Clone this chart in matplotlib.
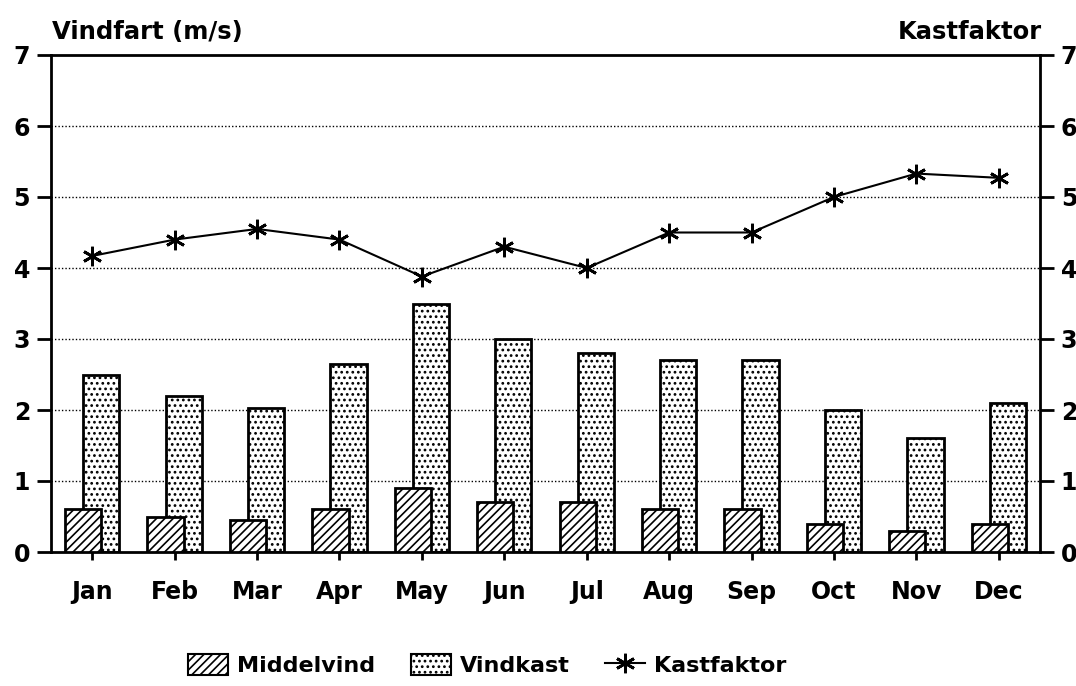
import matplotlib
matplotlib.use('Agg')
import matplotlib.pyplot as plt
import numpy as np
from matplotlib.patches import Patch
from matplotlib.lines import Line2D

# --- data --------------------------------------------------------------------
months = ['Jan', 'Feb', 'Mar', 'Apr', 'May', 'Jun',
          'Jul', 'Aug', 'Sep', 'Oct', 'Nov', 'Dec']
middelvind = [0.6, 0.5, 0.45, 0.6, 0.9, 0.7, 0.7, 0.6, 0.6, 0.4, 0.3, 0.4]
vindkast = [2.5, 2.2, 2.03, 2.65, 3.5, 3.0, 2.8, 2.7, 2.7, 2.0, 1.6, 2.1]
kastfaktor = [4.17, 4.4, 4.55, 4.4, 3.88, 4.3, 4.0, 4.5, 4.5, 5.0, 5.33, 5.27]

plt.rcParams['font.family'] = ['DejaVu Sans']
plt.rcParams['font.weight'] = 'bold'
plt.rcParams['hatch.linewidth'] = 1.2

fig = plt.figure(figsize=(10.76, 6.86), dpi=100)
ax = fig.add_axes([51 / 1076, 1 - 552 / 686, 989 / 1076, 497 / 686])

x = np.arange(len(months))
wBar, dOff = 0.44, 0.11
ax.bar(x + dOff, vindkast, wBar, facecolor='white', edgecolor='black',
       lw=2, hatch='...', zorder=2)
ax.bar(x - dOff, middelvind, wBar, facecolor='white', edgecolor='black',
       lw=2, hatch='////', zorder=3)
ax.plot(x, kastfaktor, color='black', lw=1.5, marker=(6, 2, 0), ms=14,
        mew=2, zorder=4)

ax.set_xlim(-0.5, len(months) - 0.5)
ax.set_ylim(0, 7)
ax.set_yticks(range(8))
ax.set_xticks(x)
ax.set_xticklabels(months)
for yG in range(1, 7):
    ax.axhline(yG, color='black', lw=1, ls=(0, (1, 1.5)), zorder=1)

for s in ax.spines.values():
    s.set_linewidth(2)
ax.tick_params(axis='both', labelsize=17, width=2, length=10,
               direction='out', pad=5)
ax.tick_params(axis='x', length=6, pad=14)
ax.tick_params(axis='y', labelright=True, right=True)

fig.text(52 / 1076, 1 - 32 / 686, 'Vindfart (m/s)', fontsize=17.5,
         fontweight='bold', va='center', ha='left')
fig.text(1042 / 1076, 1 - 32 / 686, 'Kastfaktor', fontsize=17.5,
         fontweight='bold', va='center', ha='right')

hLeg = [Patch(facecolor='white', edgecolor='black', hatch='////', lw=1.5),
        Patch(facecolor='white', edgecolor='black', hatch='...', lw=1.5),
        Line2D([], [], color='black', lw=1.5, marker=(6, 2, 0), ms=14,
               mew=2)]
fig.legend(hLeg, ['Middelvind', 'Vindkast', 'Kastfaktor'], loc='center',
           bbox_to_anchor=(0.453, 1 - 665 / 686), ncol=3, frameon=False,
           fontsize=16, columnspacing=1.6, handlelength=1.8,
           handleheight=1.1, handletextpad=0.4)

fig.savefig('out.png', dpi=100)
